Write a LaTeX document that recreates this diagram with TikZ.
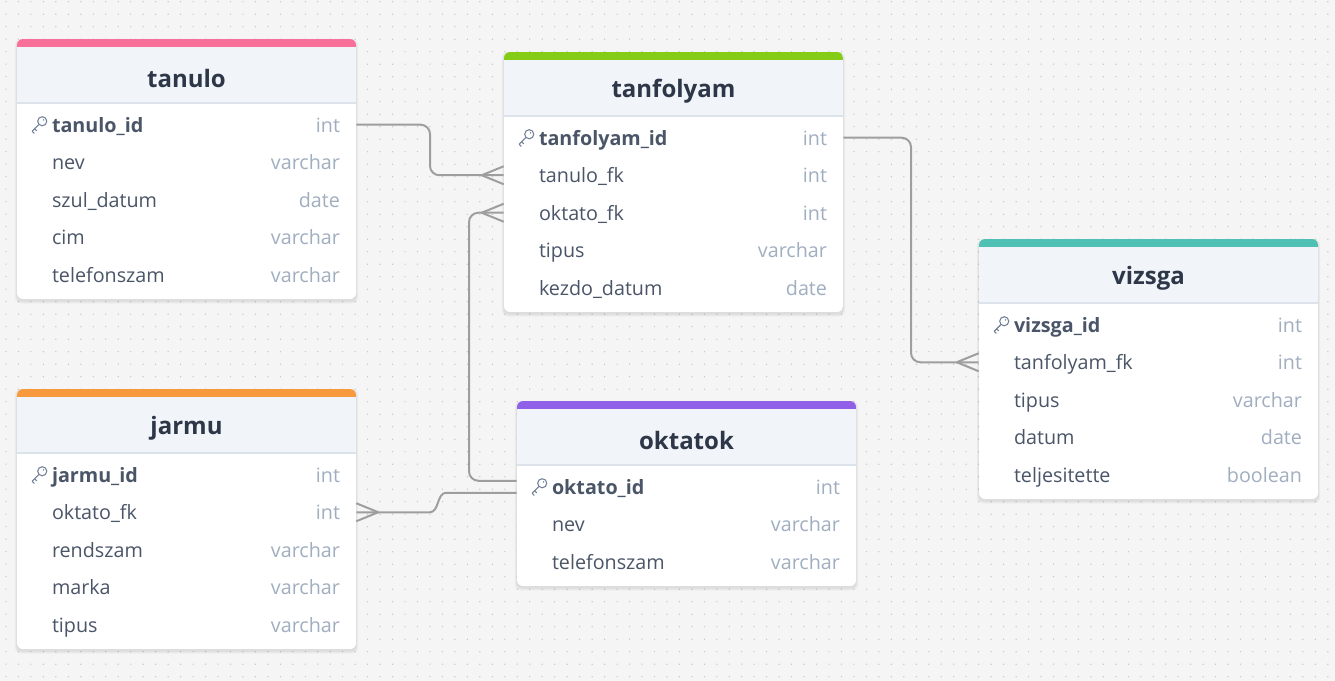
\documentclass[tikz,border=0pt]{standalone}
\usepackage{fontspec}
\setmainfont{Open Sans}
\definecolor{bg}{HTML}{F5F5F5}
\definecolor{dotc}{HTML}{C6C6C6}
\definecolor{hdr}{HTML}{F1F4F9}
\definecolor{hline}{HTML}{DDE3EA}
\definecolor{ttl}{HTML}{2D3748}
\definecolor{fld}{HTML}{4A5568}
\definecolor{typ}{HTML}{A0AEC0}
\definecolor{keyc}{HTML}{718096}
\definecolor{conc}{HTML}{9E9E9E}
\definecolor{cpink}{HTML}{F8709A}
\definecolor{cgreen}{HTML}{84CC16}
\definecolor{cteal}{HTML}{4FC1B4}
\definecolor{corange}{HTML}{F79A3E}
\definecolor{cpurple}{HTML}{9061E8}
\tikzset{
 rowbox/.style={inner sep=0pt, minimum width=254.25pt, minimum height=28.125pt},
 fname/.style={inner sep=0pt, anchor=mid west, yshift=-3pt, text=fld, font=\fontsize{14.8}{17}\selectfont},
 kname/.style={inner sep=0pt, anchor=mid west, yshift=-3pt, text=fld, font=\fontsize{14.8}{17}\selectfont\bfseries},
 ftype/.style={inner sep=0pt, anchor=mid east, yshift=-3pt, text=typ, font=\fontsize{14.8}{17}\selectfont},
 ttlnode/.style={inner sep=0pt, text=ttl, font=\fontsize{18}{20}\selectfont\bfseries},
 conn/.style={draw=conc, line width=1.5pt, rounded corners=7pt},
 crowline/.style={draw=conc, line width=1.5pt},
 keyicon/.style={draw=keyc, line width=0.8pt, line cap=round, line join=round},
}
\newcommand\erdtable[6]{%
 \pgfmathsetmacro\tB{#3+72.5+37.5*#4}
 \foreach \s in {1,2,3}{\fill[black, opacity=0.03, rounded corners=4.5pt] (#2-\s*0.7, #3-\s*0.5+1.5) rectangle (#2+339+\s*0.7, \tB+\s+1.5);}
 \begin{scope}
 \clip[rounded corners=4.5pt] (#2,#3) rectangle (#2+339,\tB);
 \fill[white] (#2,#3) rectangle (#2+339,\tB);
 \fill[hdr] (#2,#3+8) rectangle (#2+339,#3+64);
 \fill[#5] (#2,#3) rectangle (#2+339,#3+8);
 \draw[hline, line width=0.9pt] (#2,#3+64) -- (#2+339,#3+64);
 \end{scope}
 \node[ttlnode] (#1-title) at (#2+169.5,#3+39.5) {#6};
}
% id, index, L, T, name, type
\newcommand\erdrow[6]{%
 \node[rowbox] (#1-#2) at (#3+169.5, #4+48.25+37.5*#2) {};
 \node[fname] (#1-#2n) at ([xshift=26.25pt]#1-#2.west) {#5};
 \node[ftype] (#1-#2t) at ([xshift=-12pt]#1-#2.east) {#6};
}
\newcommand\erdkey[6]{%
 \node[rowbox] (#1-#2) at (#3+169.5, #4+48.25+37.5*#2) {};
 \node[kname] (#1-#2n) at ([xshift=26.25pt]#1-#2.west) {#5};
 \node[ftype] (#1-#2t) at ([xshift=-12pt]#1-#2.east) {#6};
 \begin{scope}[shift={(#1-#2.west)}]
 \draw[keyicon] (25.5,-3.5) circle (3.4pt);
 \fill[keyc] (26.8,-4.8) circle (0.6pt);
 \draw[keyicon] (21.9,0.1) -- (15.5,6.5) -- (17.5,8.5) (18,4) -- (20,6);
 \end{scope}
}
\newcommand\crowW[1]{\draw[crowline] ([xshift=-16.5pt]#1) -- ([yshift=6.75pt]#1) ([xshift=-16.5pt]#1) -- ([yshift=-6.75pt]#1);}
\newcommand\crowE[1]{\draw[crowline] ([xshift=16.5pt]#1) -- ([yshift=6.75pt]#1) ([xshift=16.5pt]#1) -- ([yshift=-6.75pt]#1);}
\begin{document}
\begin{tikzpicture}[x=0.75pt,y=-0.75pt]
\useasboundingbox (0,0) rectangle (1335,681);
\fill[bg] (0,0) rectangle (1335,681);
\foreach \i in {0,...,106}{\foreach \j in {0,...,54}{\fill[dotc] (6+12.47*\i, 1.7+12.5*\j) circle (0.55pt);}}
% tanulo
\erdtable{tanulo}{17}{39}{5}{cpink}{tanulo}
\erdkey{tanulo}{1}{17}{39}{tanulo\_id}{int}
\erdrow{tanulo}{2}{17}{39}{nev}{varchar}
\erdrow{tanulo}{3}{17}{39}{szul\_datum}{date}
\erdrow{tanulo}{4}{17}{39}{cim}{varchar}
\erdrow{tanulo}{5}{17}{39}{telefonszam}{varchar}
% tanfolyam
\erdtable{tanfolyam}{504}{52}{5}{cgreen}{tanfolyam}
\erdkey{tanfolyam}{1}{504}{52}{tanfolyam\_id}{int}
\erdrow{tanfolyam}{2}{504}{52}{tanulo\_fk}{int}
\erdrow{tanfolyam}{3}{504}{52}{oktato\_fk}{int}
\erdrow{tanfolyam}{4}{504}{52}{tipus}{varchar}
\erdrow{tanfolyam}{5}{504}{52}{kezdo\_datum}{date}
% vizsga
\erdtable{vizsga}{979}{239}{5}{cteal}{vizsga}
\erdkey{vizsga}{1}{979}{239}{vizsga\_id}{int}
\erdrow{vizsga}{2}{979}{239}{tanfolyam\_fk}{int}
\erdrow{vizsga}{3}{979}{239}{tipus}{varchar}
\erdrow{vizsga}{4}{979}{239}{datum}{date}
\erdrow{vizsga}{5}{979}{239}{teljesitette}{boolean}
% jarmu
\erdtable{jarmu}{17}{389}{5}{corange}{jarmu}
\erdkey{jarmu}{1}{17}{389}{jarmu\_id}{int}
\erdrow{jarmu}{2}{17}{389}{oktato\_fk}{int}
\erdrow{jarmu}{3}{17}{389}{rendszam}{varchar}
\erdrow{jarmu}{4}{17}{389}{marka}{varchar}
\erdrow{jarmu}{5}{17}{389}{tipus}{varchar}
% oktatok
\erdtable{oktatok}{517}{401}{3}{cpurple}{oktatok}
\erdkey{oktatok}{1}{517}{401}{oktato\_id}{int}
\erdrow{oktatok}{2}{517}{401}{nev}{varchar}
\erdrow{oktatok}{3}{517}{401}{telefonszam}{varchar}
% connectors
\coordinate (k1) at (430,150);
\coordinate (k2) at (469,350);
\coordinate (k3) at (911,250);
\coordinate (k4a) at (446,492.75);
\coordinate (k4b) at (430,512.25);
\draw[conn] (tanulo-1.east) -| (k1) |- (tanfolyam-2.west);
\crowW{tanfolyam-2.west}
\draw[conn] ([yshift=4.5pt]oktatok-1.west) -| (k2) |- (tanfolyam-3.west);
\crowW{tanfolyam-3.west}
\draw[conn] (tanfolyam-1.east) -| (k3) |- (vizsga-2.west);
\crowW{vizsga-2.west}
\draw[crowline] ([yshift=-4.5pt]oktatok-1.west) -- (k4a) .. controls (437,492.75) and (439,512.25) .. (k4b) -- (jarmu-2.east);
\crowE{jarmu-2.east}
\end{tikzpicture}
\end{document}
